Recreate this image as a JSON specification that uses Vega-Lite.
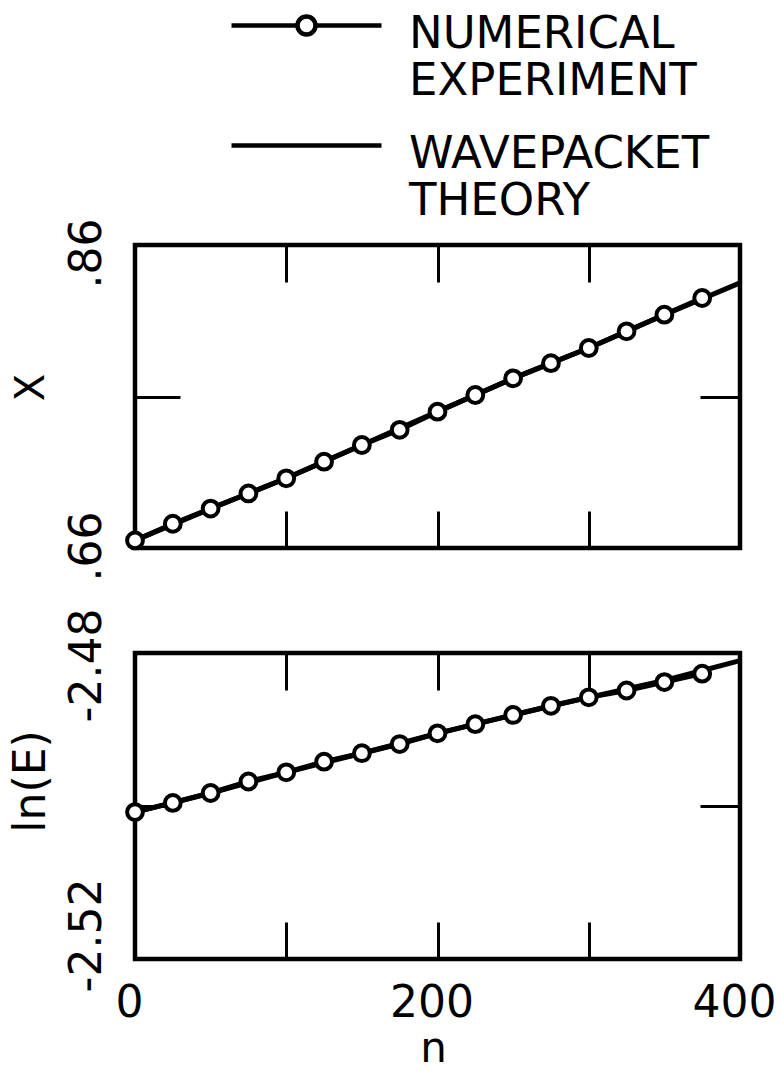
{
  "$schema": "https://vega.github.io/schema/vega-lite/v6.json",
  "padding": {"left": 6, "top": -11, "right": 0, "bottom": 0},
  "background": "white",
  "config": {
    "font": "DejaVu Sans",
    "view": {"stroke": "black", "strokeWidth": 4.5},
    "axis": {"grid": false, "domain": false, "tickColor": "black", "tickWidth": 3, "labelColor": "black", "titleColor": "black", "titleFontWeight": "normal"}
  },
  "datasets": {
    "topExp": [
      {"n": 0, "X": 0.665}, {"n": 25, "X": 0.676}, {"n": 50, "X": 0.686}, {"n": 75, "X": 0.696},
      {"n": 100, "X": 0.706}, {"n": 125, "X": 0.717}, {"n": 150, "X": 0.728}, {"n": 175, "X": 0.738},
      {"n": 200, "X": 0.750}, {"n": 225, "X": 0.761}, {"n": 250, "X": 0.772}, {"n": 275, "X": 0.782},
      {"n": 300, "X": 0.792}, {"n": 325, "X": 0.803}, {"n": 350, "X": 0.814}, {"n": 375, "X": 0.825}
    ],
    "topThy": [
      {"n": 0, "X": 0.665}, {"n": 50, "X": 0.686}, {"n": 100, "X": 0.706}, {"n": 150, "X": 0.728},
      {"n": 200, "X": 0.750}, {"n": 250, "X": 0.772}, {"n": 300, "X": 0.792}, {"n": 350, "X": 0.814},
      {"n": 400, "X": 0.835}
    ],
    "botExp": [
      {"n": 0, "lnE": -2.5008}, {"n": 25, "lnE": -2.4996}, {"n": 50, "lnE": -2.4983}, {"n": 75, "lnE": -2.4968},
      {"n": 100, "lnE": -2.4956}, {"n": 125, "lnE": -2.4942}, {"n": 150, "lnE": -2.4931}, {"n": 175, "lnE": -2.4919},
      {"n": 200, "lnE": -2.4905}, {"n": 225, "lnE": -2.4893}, {"n": 250, "lnE": -2.4881}, {"n": 275, "lnE": -2.4869},
      {"n": 300, "lnE": -2.4858}, {"n": 325, "lnE": -2.4849}, {"n": 350, "lnE": -2.4838}, {"n": 375, "lnE": -2.4827}
    ],
    "botThy": [
      {"n": 0, "lnE": -2.5008}, {"n": 50, "lnE": -2.4983}, {"n": 100, "lnE": -2.4956}, {"n": 150, "lnE": -2.4931},
      {"n": 200, "lnE": -2.4905}, {"n": 250, "lnE": -2.4881}, {"n": 300, "lnE": -2.4858}, {"n": 350, "lnE": -2.4836},
      {"n": 400, "lnE": -2.4810}
    ],
    "legendRows": [
      {"series": "NUMERICAL EXPERIMENT"}, {"series": "WAVEPACKET THEORY"}
    ]
  },
  "vconcat": [
    {
      "width": 605,
      "height": 303,
      "layer": [
        {
          "data": {"name": "topThy"},
          "mark": {"type": "line", "color": "black", "strokeWidth": 5},
          "encoding": {
            "x": {"field": "n", "type": "quantitative", "scale": {"domain": [0, 400], "nice": false, "zero": false},
              "axis": {"orient": "bottom", "values": [100, 200, 300], "labels": false, "tickSize": -37, "title": null}},
            "y": {"field": "X", "type": "quantitative", "scale": {"domain": [0.66, 0.86], "nice": false, "zero": false},
              "axis": {"orient": "left", "values": [0.66, 0.76, 0.86], "title": "X", "titleFontSize": 40,
                "titleAngle": 270, "titleX": -104, "titleY": 142, "titleAlign": "center", "titleBaseline": "middle",
                "labelAngle": 270, "labelAlign": "center", "labelBaseline": "bottom", "labelFontSize": 44,
                "labelPadding": 71, "tickSize": -45,
                "tickOpacity": {"condition": {"test": "datum.value > 0.7 && datum.value < 0.8", "value": 1}, "value": 0},
                "labelOffset": {"condition": {"test": "datum.value > 0.8", "value": 8}, "value": -2},
                "labelExpr": "datum.value > 0.7 && datum.value < 0.8 ? '' : replace(format(datum.value, '.2f'), '0.', '.')"}}
          }
        },
        {
          "data": {"name": "topExp"},
          "mark": {"type": "line", "color": "black", "strokeWidth": 5,
            "point": {"filled": true, "fill": "white", "stroke": "black", "strokeWidth": 4, "size": 250, "opacity": 1}},
          "encoding": {
            "x": {"field": "n", "type": "quantitative",
              "axis": {"orient": "top", "values": [100, 200, 300], "labels": false, "tickSize": -37, "title": null}},
            "y": {"field": "X", "type": "quantitative",
              "axis": {"orient": "right", "values": [0.76], "labels": false, "tickSize": -40, "title": null}}
          }
        },
        {
          "data": {"name": "legendRows"},
          "transform": [{"filter": "false"}],
          "mark": {"type": "point", "color": "black", "strokeWidth": 4.5, "filled": false, "opacity": 1},
          "encoding": {
            "shape": {"field": "series", "type": "nominal",
              "scale": {"domain": ["NUMERICAL EXPERIMENT", "WAVEPACKET THEORY"],
                "range": ["M-15,2.8H-1.8M1.8,2.8H15M-1.8,2.8A1.8,1.8,0,1,1,1.8,2.8A1.8,1.8,0,1,1,-1.8,2.8", "M-15,2.8H15"]},
              "legend": {"title": null, "orient": "none", "legendX": 149, "legendY": -256, "direction": "vertical",
                "symbolSize": 100, "symbolStrokeWidth": 4.5, "symbolStrokeColor": "black", "symbolFillColor": "white",
                "symbolOpacity": 1,
                "labelFontSize": 45, "labelLimit": 0, "labelOffset": 80, "rowPadding": 5, "labelBaseline": "top",
                "labelColor": "black",
                "labelExpr": "split(datum.label, ' ')"}}
          }
        }
      ],
      "resolve": {"axis": {"x": "independent", "y": "independent"}}
    },
    {
      "width": 605,
      "height": 306,
      "layer": [
        {
          "data": {"name": "botThy"},
          "mark": {"type": "line", "color": "black", "strokeWidth": 5},
          "encoding": {
            "x": {"field": "n", "type": "quantitative", "scale": {"domain": [0, 400], "nice": false, "zero": false},
              "axis": {"orient": "bottom", "values": [0, 100, 200, 300, 400], "tickSize": -37,
                "tickOpacity": {"condition": {"test": "datum.value > 0 && datum.value < 400", "value": 1}, "value": 0},
                "labelExpr": "datum.value % 200 == 0 ? format(datum.value, 'd') : ''",
                "labelFontSize": 44, "labelPadding": 59, "labelFlush": false, "labelOffset": -6,
                "labelAngle": 0, "labelAlign": "center", "labelBaseline": "top",
                "title": "n", "titleFontSize": 42, "titleX": 298, "titleY": 102, "titleAlign": "center", "titleBaseline": "alphabetic"}},
            "y": {"field": "lnE", "type": "quantitative", "scale": {"domain": [-2.52, -2.48], "nice": false, "zero": false},
              "axis": {"orient": "left", "values": [-2.52, -2.5, -2.48], "title": "ln(E)", "titleFontSize": 44,
                "titleAngle": 270, "titleX": -104, "titleY": 128, "titleAlign": "center", "titleBaseline": "middle",
                "labelAngle": 270, "labelAlign": "center", "labelBaseline": "bottom", "labelFontSize": 44,
                "labelPadding": 71, "tickSize": -45,
                "tickOpacity": {"condition": {"test": "datum.value > -2.51 && datum.value < -2.49", "value": 1}, "value": 0},
                "labelOffset": {"condition": {"test": "datum.value > -2.49", "value": 12}, "value": -24},
                "labelExpr": "datum.value > -2.51 && datum.value < -2.49 ? '' : replace(format(datum.value, '.2f'), '\u2212', '-')"}}
          }
        },
        {
          "data": {"name": "botExp"},
          "mark": {"type": "line", "color": "black", "strokeWidth": 5,
            "point": {"filled": true, "fill": "white", "stroke": "black", "strokeWidth": 4, "size": 250, "opacity": 1}},
          "encoding": {
            "x": {"field": "n", "type": "quantitative",
              "axis": {"orient": "top", "values": [100, 200, 300], "labels": false, "tickSize": -37, "title": null}},
            "y": {"field": "lnE", "type": "quantitative",
              "axis": {"orient": "right", "values": [-2.5], "labels": false, "tickSize": -40, "title": null}}
          }
        }
      ],
      "resolve": {"axis": {"x": "independent", "y": "independent"}}
    }
  ],
  "spacing": 105,
  "bounds": "flush"
}
